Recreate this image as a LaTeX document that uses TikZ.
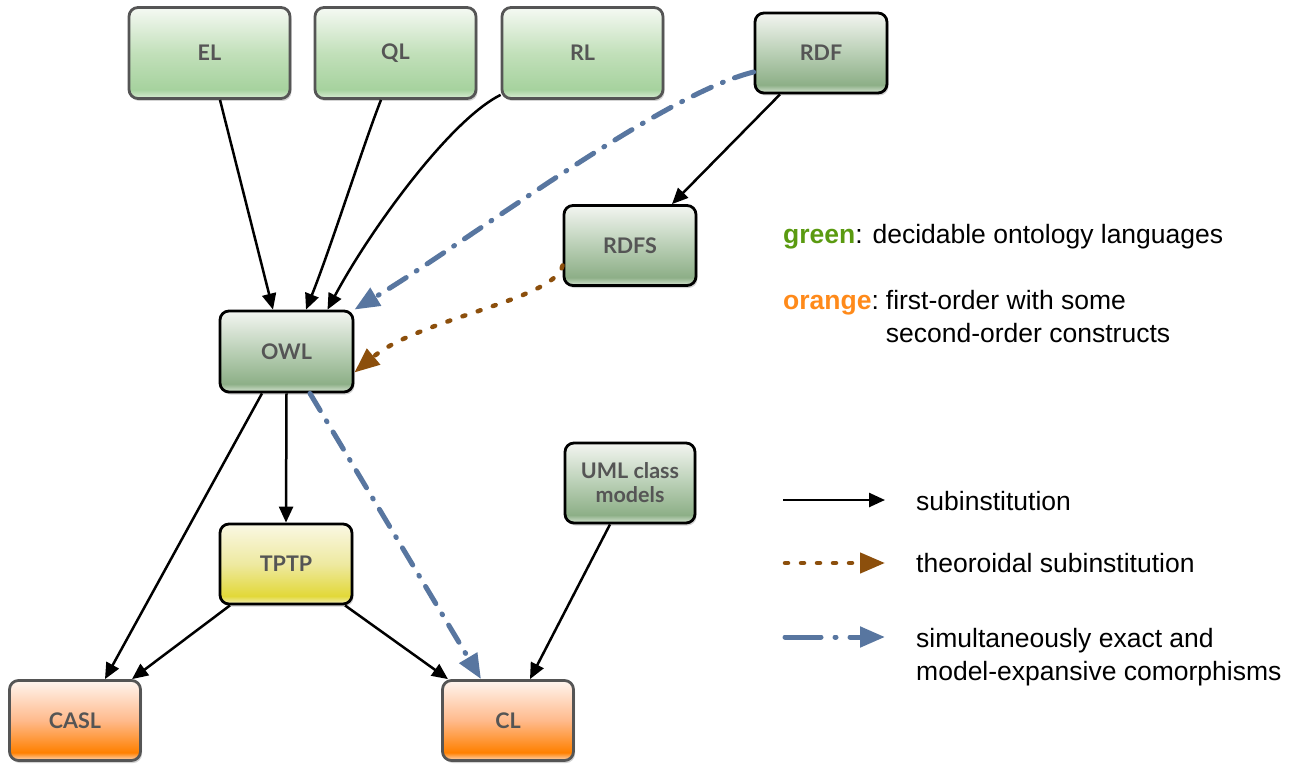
\documentclass[tikz,border=0pt]{standalone}
\usepackage{fontspec}
\setmainfont{Liberation Sans}
\newfontfamily\nodefont{Lato}
\usetikzlibrary{arrows.meta,shadows}
\definecolor{lgtop}{HTML}{F5F9F3}\definecolor{lgmid}{HTML}{C2E0BA}\definecolor{lgsat}{HTML}{A6D29E}\definecolor{lgbot}{HTML}{DAEDD6}
\definecolor{dgtop}{HTML}{F3F5F1}\definecolor{dgmid}{HTML}{B9CFB5}\definecolor{dgsat}{HTML}{8DAF87}\definecolor{dgbot}{HTML}{D6E4D2}
\definecolor{ytop}{HTML}{FAF8E4}\definecolor{ymid}{HTML}{EEE9A0}\definecolor{ysat}{HTML}{E2D838}\definecolor{ybot}{HTML}{F3EFBC}
\definecolor{otop}{HTML}{FFF5EF}\definecolor{omid}{HTML}{FFBA8C}\definecolor{osat}{HTML}{FF8000}\definecolor{obot}{HTML}{FFDABF}
\definecolor{bordergray}{HTML}{555555}
\definecolor{nodetext}{HTML}{555555}
\definecolor{brownc}{HTML}{8C4F0C}
\definecolor{bluec}{HTML}{5876A0}
\definecolor{greentxt}{HTML}{5A9A10}
\definecolor{orangetxt}{HTML}{FF8A1A}
\pgfdeclareverticalshading{lgshade}{100bp}{color(0bp)=(lgbot); color(25bp)=(lgbot); color(30bp)=(lgsat); color(50bp)=(lgmid); color(75bp)=(lgtop); color(100bp)=(lgtop)}
\pgfdeclareverticalshading{dgshade}{100bp}{color(0bp)=(dgbot); color(25bp)=(dgbot); color(30bp)=(dgsat); color(50bp)=(dgmid); color(75bp)=(dgtop); color(100bp)=(dgtop)}
\pgfdeclareverticalshading{yshade}{100bp}{color(0bp)=(ybot); color(25bp)=(ybot); color(30bp)=(ysat); color(50bp)=(ymid); color(75bp)=(ytop); color(100bp)=(ytop)}
\pgfdeclareverticalshading{oshade}{100bp}{color(0bp)=(obot); color(25bp)=(obot); color(30bp)=(osat); color(50bp)=(omid); color(75bp)=(otop); color(100bp)=(otop)}
\tikzset{
  box/.style={rounded corners=9pt, minimum width=132pt, minimum height=80pt, inner sep=0pt,
    font=\nodefont\bfseries\fontsize{21.5}{24}\selectfont, text=nodetext, align=center, line width=2.8pt,
    drop shadow={shadow xshift=1.5pt, shadow yshift=-2.5pt, opacity=0.35}},
  bigbox/.style={box, minimum width=161pt, minimum height=91pt},
  lgreen/.style={draw=bordergray, shading=lgshade},
  dgreen/.style={draw=black, shading=dgshade},
  yel/.style={draw=black, shading=yshade},
  ora/.style={draw=bordergray, shading=oshade},
  sub/.style={draw=black, line width=2.5pt, -{Triangle[length=16pt,width=14pt]}},
  theo/.style={draw=brownc, line width=4.5pt, line cap=round, dash pattern=on 3pt off 13pt, -{Triangle[length=25pt,width=20pt]}},
  como/.style={draw=bluec, line width=5pt, line cap=round, dash pattern=on 20pt off 12pt on 1pt off 12pt, -{Triangle[length=25pt,width=20pt]}},
  legtext/.style={anchor=west, inner sep=0pt, font=\fontsize{26.5}{33}\selectfont, align=left}
}
\begin{document}
\begin{tikzpicture}[x=1pt,y=-1pt]
\useasboundingbox (0,0) rectangle (1314,765);
% nodes
\node[bigbox,lgreen] (el) at (209.5,53) {EL};
\node[bigbox,lgreen] (ql) at (395.5,53) {QL};
\node[bigbox,lgreen] (rl) at (582.5,53) {RL};
\node[box,dgreen] (rdf) at (821,53) {RDF};
\node[box,dgreen] (rdfs) at (630,245.5) {RDFS};
\node[box,dgreen,minimum width=133pt,minimum height=81pt] (owl) at (286.5,351.5) {OWL};
\node[box,yel] (tptp) at (286,564) {TPTP};
\node[box,dgreen,minimum width=130pt] (uml) at (630,483) {UML class\\models};
\node[box,ora,minimum width=131pt] (casl) at (75,720.5) {CASL};
\node[box,ora,minimum width=131pt] (cl) at (508,720.5) {CL};
% connectors
\draw[sub] ([xshift=10.5pt]el.south) -- ([xshift=-13.5pt]owl.north);
\draw[sub] ([xshift=-14.5pt]ql.south) .. controls (365,140) and (330,250) .. ([xshift=19.5pt]owl.north);
\draw[sub] ([yshift=5pt]rl.south west) .. controls (450,120) and (370,230) .. ([xshift=41pt]owl.north);
\draw[sub] ([xshift=-41pt]rdf.south) -- ([xshift=42pt]rdfs.north);
\draw[como] ([yshift=-19pt]rdf.west) .. controls (660,95) and (470,240) .. (owl.north east);
\draw[theo] ([yshift=-20pt]rdfs.west) .. controls (555,300) and (420,318) .. ([yshift=-21pt]owl.east);
\draw[sub] ([xshift=-24.5pt]owl.south) -- ([xshift=30pt]casl.north);
\draw[sub] (owl.south) -- (tptp.north);
\draw[como] ([xshift=23.5pt]owl.south) -- ([xshift=-27pt]cl.north);
\draw[sub] ([xshift=-56pt]tptp.south) -- ([xshift=57pt]casl.north);
\draw[sub] ([xshift=59pt]tptp.south) -- ([xshift=-60pt]cl.north);
\draw[sub] ([xshift=-20pt]uml.south) -- ([xshift=22pt]cl.north);
% legend
\node[legtext] (lg1) at (783,237) {{\color{greentxt}\bfseries green}: decidable ontology languages};
\node[legtext,anchor=north west] (lg2) at (783,286) {\begin{tabular}{@{}l@{}l@{}}{\color{orangetxt}\bfseries orange}:\hspace{7pt} & first-order with some\\ & second-order constructs\end{tabular}};
\coordinate (l1a) at (783,500); \coordinate (l1b) at (885,500);
\coordinate (l2a) at (785,563); \coordinate (l2b) at (885,563);
\coordinate (l3a) at (785,637); \coordinate (l3b) at (885,637);
\draw[sub] (l1a) -- (l1b);
\draw[theo] (l2a) -- (l2b);
\draw[como,dash pattern=on 36pt off 14pt on 1pt off 14pt] (l3a) -- (l3b);
\node[legtext] (t1) at (916,501) {subinstitution};
\node[legtext] (t2) at (916,563) {theoroidal subinstitution};
\node[legtext] (t3) at (916,657) {simultaneously exact and\\model-expansive comorphisms};
\end{tikzpicture}
\end{document}
